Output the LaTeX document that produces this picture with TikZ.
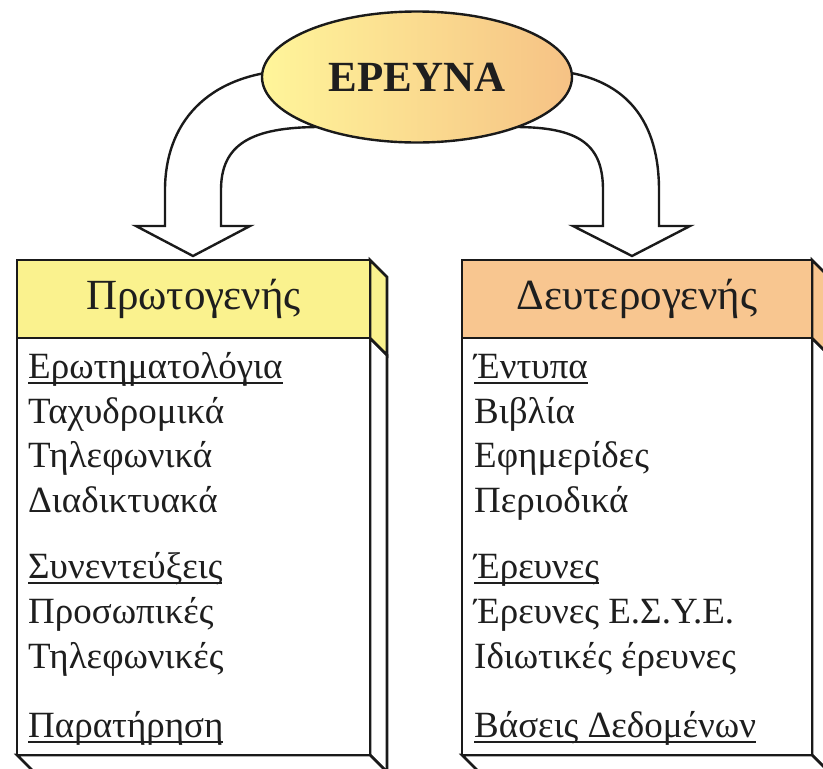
\documentclass[tikz,border=0pt]{standalone}
\usepackage{fontspec}
\setmainfont{Liberation Serif}
\usetikzlibrary{shapes.geometric}
\definecolor{hdrY}{HTML}{FAF28E}
\definecolor{hdrO}{HTML}{F8C690}
\definecolor{ellL}{HTML}{FFF59A}
\definecolor{ellR}{HTML}{F6C285}
\definecolor{txt}{HTML}{1E1E1E}
\definecolor{edge}{HTML}{1A1A1A}
\newcommand\myul[1]{\setbox0=\hbox{#1}\rlap{\vrule width\wd0 height -0.11em depth 0.16em}\box0}
\tikzset{
  item/.style={anchor=base west, inner sep=0pt, font=\fontsize{37}{42}\selectfont, text=txt},
  hdr/.style={anchor=base, inner sep=0pt, font=\fontsize{43}{48}\selectfont, text=txt},
  boxline/.style={draw=edge, line width=2.6pt, line join=miter},
  blockarrow/.style={draw=edge, line width=2.4pt, fill=white, line join=miter},
}
\begin{document}
\begin{tikzpicture}[x=1pt,y=-1pt]
\useasboundingbox (0,0) rectangle (823,769);
% block arrows
\path[blockarrow] (292,70) .. controls (205,74) and (165,125) .. (165,190)
  -- (165,226) -- (136,226) -- (193,256) -- (250,226) -- (221,226) -- (221,190)
  .. controls (221,145) and (250,127) .. (320,127) -- cycle;
\path[blockarrow] (545,70) .. controls (630,74) and (659,125) .. (659,190)
  -- (659,226) -- (690,226) -- (632,256) -- (573,226) -- (603,226) -- (603,190)
  .. controls (603,145) and (580,127) .. (515,127) -- cycle;
% ellipse
\node[ellipse, draw=edge, line width=2.4pt, left color=ellL, right color=ellR,
  minimum width=310pt, minimum height=131pt, inner sep=0pt,
  font=\bfseries\fontsize{43}{48}\selectfont, text=txt] (erevna) at (417,77) {ΕΡΕΥΝΑ};
% left box
\path[boxline, fill=white] (370,338) -- (387,355) -- (387,772) -- (370,755) -- cycle;
\path[boxline, fill=hdrY] (370,260) -- (387,277) -- (387,355) -- (370,338) -- cycle;
\path[boxline, fill=white] (17,755) -- (34,772) -- (387,772) -- (370,755) -- cycle;
\path[boxline, fill=white] (17,338) rectangle (370,755);
\path[boxline, fill=hdrY] (17,260) rectangle (370,338);
% right box
\path[boxline, fill=white] (812,338) -- (829,355) -- (829,772) -- (812,755) -- cycle;
\path[boxline, fill=hdrO] (812,260) -- (829,277) -- (829,355) -- (812,338) -- cycle;
\path[boxline, fill=white] (462,755) -- (479,772) -- (829,772) -- (812,755) -- cycle;
\path[boxline, fill=white] (462,338) rectangle (812,755);
\path[boxline, fill=hdrO] (462,260) rectangle (812,338);
% headers
\node[hdr] (h1) at (193.5,309) {Πρωτογενής};
\node[hdr] (h2) at (637,309) {Δευτερογενής};
% left items
\node[item] (l1) at (28,378) {\myul{Ερωτηματολόγια}};
\node[item] (l2) at (28,423) {Ταχυδρομικά};
\node[item] (l3) at (28,467) {Τηλεφωνικά};
\node[item] (l4) at (28,512) {Διαδικτυακά};
\node[item] (l5) at (28,578) {\myul{Συνεντεύξεις}};
\node[item] (l6) at (28,623) {Προσωπικές};
\node[item] (l7) at (28,668) {Τηλεφωνικές};
\node[item] (l8) at (28,737) {\myul{Παρατήρηση}};
% right items
\node[item] (r1) at (474,378) {\myul{Έντυπα}};
\node[item] (r2) at (474,423) {Βιβλία};
\node[item] (r3) at (474,467) {Εφημερίδες};
\node[item] (r4) at (474,512) {Περιοδικά};
\node[item] (r5) at (474,578) {\myul{Έρευνες}};
\node[item] (r6) at (474,623) {Έρευνες Ε.Σ.Υ.Ε.};
\node[item] (r7) at (474,668) {Ιδιωτικές έρευνες};
\node[item] (r8) at (474,737) {\myul{Βάσεις Δεδομένων}};
\end{tikzpicture}
\end{document}
